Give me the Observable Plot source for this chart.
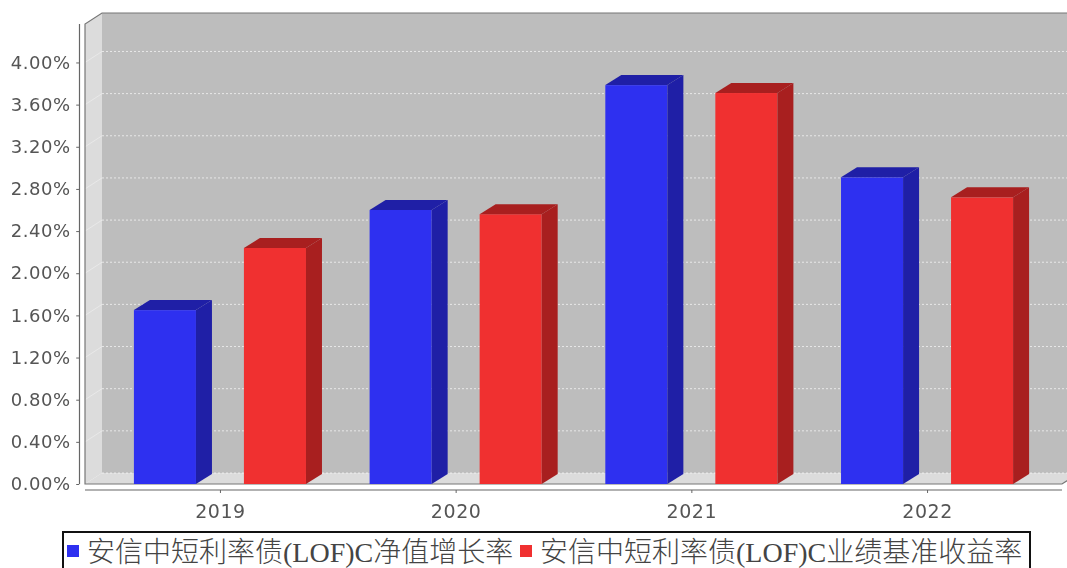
<!DOCTYPE html>
<html><head><meta charset="utf-8">
<script src="https://cdn.jsdelivr.net/npm/d3@7"></script>
<script src="https://cdn.jsdelivr.net/npm/@observablehq/plot@0.6"></script>
<style>
html,body{margin:0;padding:0;background:#fff;overflow:hidden;width:1067px;height:568px}
#chart{position:absolute;left:0;top:0;filter:blur(.35px)}
#legend{position:absolute;left:62px;top:531px;width:965px;height:35px;border:2px solid #111;box-sizing:content-box;
 font-family:"Liberation Serif","Noto Sans CJK SC",serif;font-size:28px;line-height:35px;color:#444;white-space:nowrap}
#legend span.k{position:absolute;top:12px;width:12px;height:12px}
#legend span.t{position:absolute;top:2px;font-weight:300}
</style></head><body>
<div id="chart"></div><div id="legend"></div>
<script>
const years = ["2019","2020","2021","2022"];
const seriesNames = ["安信中短利率债(LOF)C净值增长率","安信中短利率债(LOF)C业绩基准收益率"];
const navGrowth = [1.65,2.60,3.785,2.91];
const benchmark = [2.24,2.56,3.71,2.72];
const seriesColors = ["#2e30f0","#f03030"];
const sideColors = ["#1f1fa6","#a81f1f"];
const yTicks = [0,0.4,0.8,1.2,1.6,2.0,2.4,2.8,3.2,3.6,4.0];
const yMax = 4.365;

const rows = years.flatMap((year,i)=>[
  {year,series:seriesNames[0],value:navGrowth[i],k:0},
  {year,series:seriesNames[1],value:benchmark[i],k:1}
]);
const W=1067,H=530,mL=85,mR=5,mT=24,mB=46;
const paddingOuter=.2075,paddingInner=.27;
const depthX = 17, depthY = 11, barDepthX = 16, barDepthY = 10;
const poly = (g,pts,fill,stroke,sw=1)=>g.append("polygon").attr("points",pts.map(p=>p.join(",")).join(" "))
  .attr("fill",fill).attr("stroke",stroke||"none").attr("stroke-width",sw);

function wallsRender(index,scales){
  const L=mL,R=W-mR,T=mT,B=H-mB;
  const g=d3.create("svg:g");
  poly(g,[[L+depthX,T-depthY],[R+depthX,T-depthY],[R+depthX,B-depthY],[L+depthX,B-depthY]],"#bdbdbd");
  poly(g,[[L,B],[L,T],[L+depthX,T-depthY],[L+depthX,B-depthY]],"#dcdcdc");
  poly(g,[[L,B],[L+depthX,B-depthY],[R+depthX,B-depthY],[R,B]],"#dcdcdc");
  g.selectAll("line.w").data(yTicks.slice(1)).join("line")
    .attr("x1",L).attr("x2",L+depthX).attr("y1",v=>scales.y(v)).attr("y2",v=>scales.y(v)-depthY)
    .attr("stroke","#fff").attr("stroke-opacity",.35);
  g.selectAll("line.g").data(yTicks).join("line")
    .attr("x1",L+depthX).attr("x2",R+depthX).attr("y1",v=>scales.y(v)-depthY).attr("y2",v=>scales.y(v)-depthY)
    .attr("stroke","#fff").attr("stroke-opacity",.65).attr("stroke-dasharray","2,2");
  g.append("path").attr("fill","none").attr("stroke","#777").attr("stroke-width",1.2)
    .attr("d",`M${R+depthX},${T-depthY}H${L+depthX}L${L},${T}V${B}H${R}L${R+depthX},${B-depthY}`);
  g.append("line").attr("x1",L-5.5).attr("x2",L-5.5).attr("y1",T).attr("y2",B).attr("stroke","#666").attr("stroke-width",1.2);
  g.append("line").attr("x1",L).attr("x2",R).attr("y1",B+6).attr("y2",B+6).attr("stroke","#666").attr("stroke-width",1.2);
  return g.node();
}
function barRender(index,scales,values,d,ctx,next){
  const node=next(index,scales,values,d,ctx);
  const g=d3.select(node), bw=scales.x.bandwidth();
  for(const i of index){
    const x0=values.x[i],x1=x0+bw,t=Math.min(values.y1[i],values.y2[i]),b=Math.max(values.y1[i],values.y2[i]);
    const c=sideColors[rows[i].k];
    poly(g,[[x0,t],[x0+barDepthX,t-barDepthY],[x1+barDepthX,t-barDepthY],[x1,t]],c);
    poly(g,[[x1,t],[x1+barDepthX,t-barDepthY],[x1+barDepthX,b-barDepthY],[x1,b]],c);
  }
  return node;
}
const fontBase={fontFamily:"DejaVu Sans",fill:"#555"};
const chart=Plot.plot({
  width:W,height:H,marginLeft:mL,marginRight:mR,marginTop:mT,marginBottom:mB,
  style:{background:"transparent",fontFamily:"DejaVu Sans",overflow:"hidden",letterSpacing:".55px"},
  fx:{domain:years,paddingInner,paddingOuter,round:false,label:null},
  x:{domain:seriesNames,paddingInner:.436,paddingOuter:0,round:false,axis:null},
  y:{domain:[0,yMax],label:null},
  color:{domain:seriesNames,range:seriesColors},
  marks:[
    Plot.frame({facet:"super",stroke:"none",render:wallsRender}),
    Plot.barY(rows,{fx:"year",x:"series",y:"value",fill:"series",render:barRender}),
    Plot.axisY(yTicks,{anchor:"left",label:null,tickSize:3,tickPadding:6,dx:-54.7,stroke:"#666",
      tickFormat:d=>d.toFixed(2)+"%",fontSize:18,...fontBase}),
    Plot.axisFx({anchor:"bottom",label:null,tickSize:3,tickPadding:11,dy:6,stroke:"#666",fontSize:19,...fontBase})
  ]
});
document.getElementById("chart").append(chart);

const legend=d3.select("#legend");
const keyLeft=[3,456], textLeft=[23,476];
seriesNames.forEach((s,i)=>{
  legend.append("span").attr("class","k").style("left",keyLeft[i]+"px").style("background",seriesColors[i]);
  legend.append("span").attr("class","t").style("left",textLeft[i]+"px").text(s);
});
</script></body></html>
